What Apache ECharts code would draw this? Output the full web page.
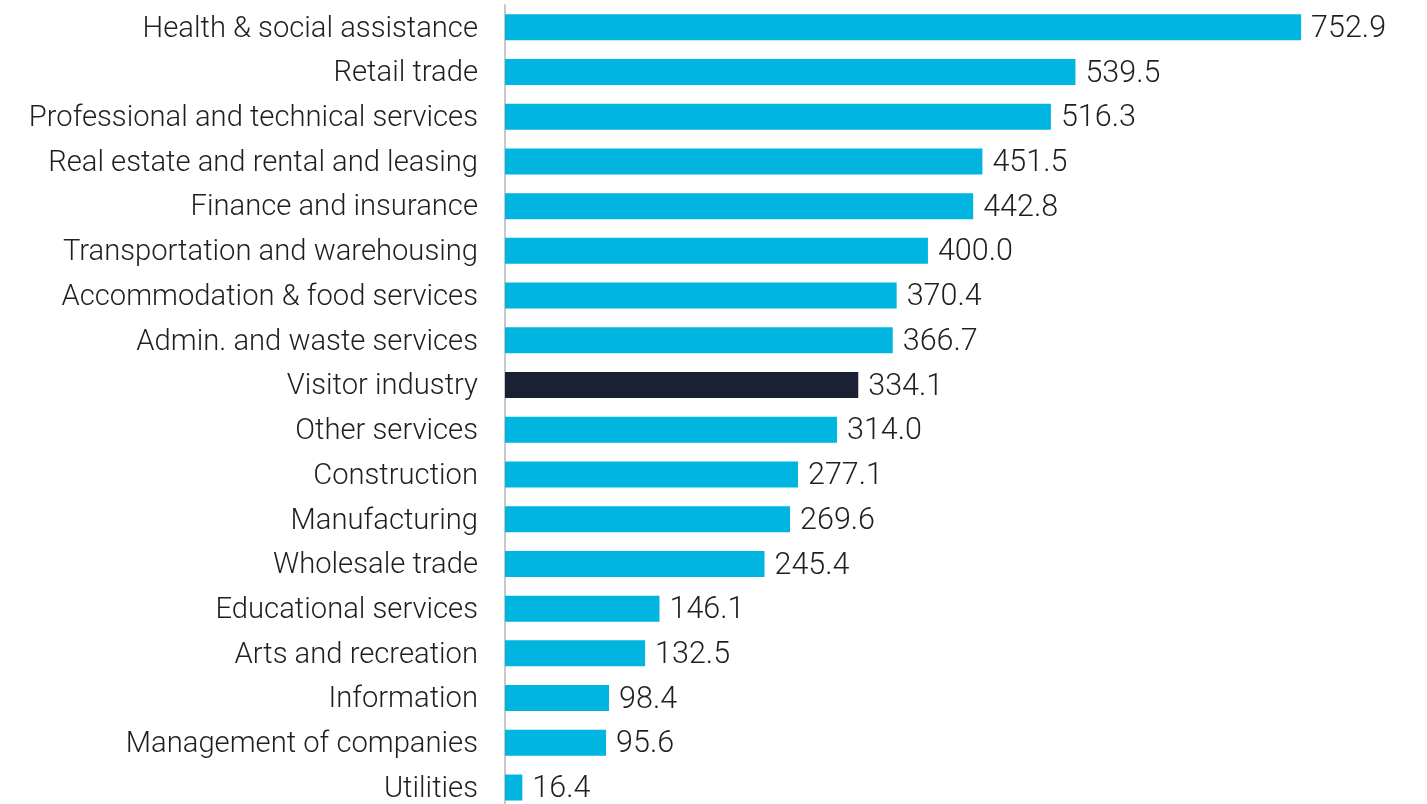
<!DOCTYPE html>
<html><head><meta charset="utf-8">
<script src="https://cdn.jsdelivr.net/npm/echarts@6/dist/echarts.min.js"></script>
<style>html,body{margin:0;padding:0;background:#fff;overflow:hidden;width:1427px;height:804px}#c{width:1427px;height:820px}</style>
</head><body><div id="c"></div>
<script>
const categories = ["Health & social assistance","Retail trade","Professional and technical services","Real estate and rental and leasing","Finance and insurance","Transportation and warehousing","Accommodation & food services","Admin. and waste services","Visitor industry","Other services","Construction","Manufacturing","Wholesale trade","Educational services","Arts and recreation","Information","Management of companies","Utilities"];
const values = [752.9,539.5,516.3,451.5,442.8,400.0,370.4,366.7,334.1,314.0,277.1,269.6,245.4,146.1,132.5,98.4,95.6,16.4];
const highlight = "Visitor industry";

const txt = {fontFamily:'Roboto', fontWeight:300, color:'#1f1f1f'};
const chart = echarts.init(document.getElementById('c'));
chart.setOption({
  animation:false,
  grid:{left:505, top:4.9, height:805, width:845.9, containLabel:false},
  xAxis:{type:'value', min:0, max:800, show:false},
  yAxis:{type:'category', data:categories, inverse:true,
    axisLine:{lineStyle:{color:'#C8C8C8', width:2}},
    axisTick:{show:false},
    axisLabel:Object.assign({margin:27, fontSize:29.2,
      formatter:v=>'{a|'+v+'}',
      rich:{a:Object.assign({fontSize:29.2, padding:[4,0,0,0]}, txt)}}, txt)
  },
  series:[{type:'bar', barWidth:26,
    data:values.map((v,i)=>({value:v, itemStyle:{color: categories[i]===highlight ? '#1B2133' : '#00B5E0'}})),
    label:Object.assign({show:true, position:'right', distance:10, fontSize:30.5, offset:[0,2],
      formatter:p=>p.value.toFixed(1)}, txt)
  }]
});
</script></body></html>
